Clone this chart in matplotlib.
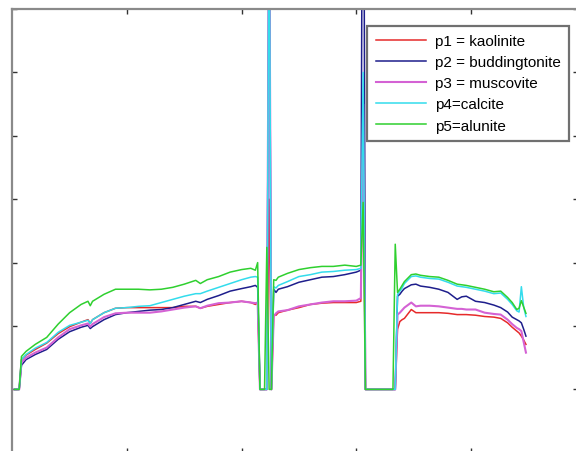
import matplotlib
matplotlib.use("Agg")
import matplotlib.pyplot as plt
import numpy as np

plt.rcParams['font.family'] = ['Liberation Sans', 'DejaVu Sans']

# ---- data (band index vs reflectance) ----
bands = [1, 2, 3, 4, 6, 10, 15, 20, 25, 30, 33, 34, 35, 40, 45, 50, 55, 60, 65, 70,
         75, 80, 82, 85, 90, 95, 100, 104, 106, 107,
         108, 110, 111, 112, 113,
         114, 115, 116, 120, 125, 130, 135, 140, 145, 150, 152,
         153, 154, 166, 167,
         168, 169, 170, 171, 174, 176, 178, 180, 182, 186, 190, 194, 196, 198,
         202, 206, 210, 213, 216, 218, 220, 221, 222, 223, 224]

p1_kaolinite = [0, 0, 0, 0.047, 0.054, 0.063, 0.073, 0.088, 0.099, 0.106, 0.110, 0.104, 0.110,
                0.121, 0.128, 0.129, 0.129, 0.129, 0.129, 0.129, 0.131, 0.131, 0.128, 0.131,
                0.134, 0.137, 0.139, 0.137, 0.134, 0.137,
                0, 0, 0, 0.30, 0,
                0.118, 0.117, 0.121, 0.125, 0.129, 0.134, 0.136, 0.137, 0.137, 0.137, 0.139,
                0.40, 0, 0, 0,
                0.095, 0.107, 0.110, 0.112, 0.126, 0.121, 0.121, 0.121, 0.121, 0.121, 0.120,
                0.118, 0.118, 0.118, 0.117, 0.115, 0.114, 0.112, 0.105, 0.098, 0.092, 0.089,
                0.084, 0.078, 0.071]

p2_buddingtonite = [0, 0, 0, 0.038, 0.047, 0.055, 0.063, 0.079, 0.091, 0.098, 0.101, 0.096, 0.099,
                    0.110, 0.118, 0.121, 0.123, 0.125, 0.126, 0.129, 0.134, 0.139, 0.137, 0.142,
                    0.148, 0.155, 0.159, 0.162, 0.164, 0.161,
                    0, 0, 0, 0.80, 0,
                    0.158, 0.153, 0.158, 0.162, 0.169, 0.173, 0.177, 0.178, 0.181, 0.185, 0.188,
                    1.20, 0, 0, 0,
                    0.147, 0.150, 0.155, 0.159, 0.165, 0.166, 0.163, 0.162, 0.161, 0.158, 0.153,
                    0.142, 0.146, 0.147, 0.139, 0.137, 0.133, 0.129, 0.122, 0.114, 0.110, 0.108,
                    0.105, 0.095, 0.084]

p3_muscovite = [0, 0, 0, 0.043, 0.050, 0.058, 0.066, 0.082, 0.095, 0.101, 0.104, 0.099, 0.103,
                0.114, 0.120, 0.121, 0.121, 0.121, 0.123, 0.126, 0.129, 0.131, 0.128, 0.132,
                0.136, 0.137, 0.139, 0.137, 0.136, 0.137,
                0, 0, 0, 0.80, 0,
                0.115, 0.120, 0.123, 0.125, 0.131, 0.134, 0.137, 0.139, 0.139, 0.140, 0.144,
                0.45, 0, 0, 0,
                0.118, 0.121, 0.125, 0.129, 0.137, 0.131, 0.132, 0.132, 0.132, 0.131, 0.129,
                0.127, 0.127, 0.126, 0.126, 0.121, 0.119, 0.118, 0.110, 0.103, 0.097, 0.095,
                0.092, 0.075, 0.058]

p4_calcite = [0, 0, 0, 0.047, 0.055, 0.065, 0.074, 0.090, 0.101, 0.106, 0.109, 0.104, 0.110,
              0.121, 0.128, 0.129, 0.131, 0.132, 0.137, 0.142, 0.147, 0.151, 0.151, 0.155,
              0.161, 0.167, 0.173, 0.177, 0.178, 0.177,
              0, 0, 0, 0.80, 0,
              0.162, 0.160, 0.164, 0.170, 0.178, 0.181, 0.185, 0.186, 0.188, 0.189, 0.191,
              0.50, 0, 0, 0,
              0.150, 0.155, 0.160, 0.167, 0.178, 0.179, 0.177, 0.176, 0.175, 0.174, 0.169,
              0.163, 0.162, 0.161, 0.158, 0.155, 0.151, 0.152, 0.142, 0.134, 0.124, 0.122,
              0.162, 0.130, 0.115]

p5_alunite = [0, 0, 0, 0.052, 0.060, 0.071, 0.082, 0.103, 0.121, 0.134, 0.139, 0.132, 0.139,
              0.150, 0.158, 0.158, 0.158, 0.157, 0.158, 0.161, 0.166, 0.172, 0.167, 0.173,
              0.178, 0.185, 0.189, 0.191, 0.188, 0.200,
              0, 0, 0.224, 0, 0,
              0.173, 0.172, 0.177, 0.183, 0.189, 0.192, 0.194, 0.194, 0.196, 0.194, 0.196,
              0.295, 0, 0, 0.229,
              0.153, 0.158, 0.164, 0.170, 0.181, 0.182, 0.180, 0.179, 0.178, 0.177, 0.172,
              0.166, 0.165, 0.164, 0.161, 0.158, 0.154, 0.155, 0.145, 0.137, 0.126, 0.128,
              0.140, 0.130, 0.120]

labels = ['p1 = kaolinite', 'p2 = buddingtonite', 'p3 = muscovite', 'p4=calcite', 'p5=alunite']
series = [p1_kaolinite, p2_buddingtonite, p3_muscovite, p4_calcite, p5_alunite]
colors = ['#e62a2a', '#1e1e8c', '#d462d4', '#33dcec', '#2fd02f']
widths = [1.1, 1.1, 1.5, 1.1, 1.1]

x_ticks = [50, 100, 150, 200]
y_ticks = [-0.1, 0, 0.1, 0.2, 0.3, 0.4, 0.5, 0.6]

# ---- figure ----
fig = plt.figure(figsize=(5.76, 4.52), dpi=100)
ax = fig.add_axes([12.3 / 576, 1 - 453.8 / 452, 565.7 / 576, 443.8 / 452])

for vals, lab, c, w in zip(series, labels, colors, widths):
    ax.plot(bands, vals, color=c, lw=w, label=lab)

ax.set_xlim(0, 246.7)
ax.set_ylim(-0.1, 0.6)
ax.set_xticks(x_ticks)
ax.set_yticks(y_ticks)
ax.tick_params(direction='in', length=3.3, width=1, color='#333333',
               top=True, right=True, labelbottom=False, labelleft=False)
for s in ax.spines.values():
    s.set_color('#8a8a8a')
    s.set_linewidth(1.6)

leg = ax.legend(loc='upper right', bbox_to_anchor=(0.984, 0.9617), borderaxespad=0,
                fontsize=11, handlelength=3.3, handletextpad=0.55, labelspacing=0.46,
                borderpad=0.55, fancybox=False, framealpha=1, edgecolor='#707070')
leg.get_frame().set_linewidth(1.6)

fig.savefig('out.png', dpi=100)
